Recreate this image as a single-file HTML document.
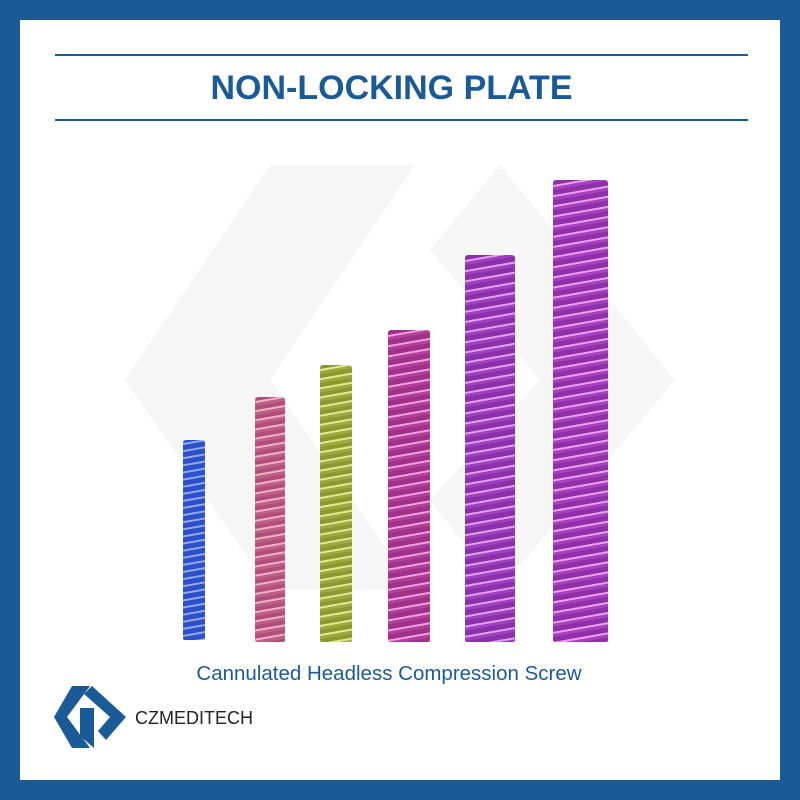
<!DOCTYPE html>
<html><head><style>
body{margin:0;width:800px;height:800px;background:#1a5b97;position:relative;overflow:hidden;font-family:"Liberation Sans",sans-serif}
.inner{position:absolute;left:20px;top:20px;width:760px;height:760px;background:#fff}
.line{position:absolute;left:55px;width:693px;height:2px;background:#1a5b97}
.title{position:absolute;left:0;width:783px;top:69px;text-align:center;font-size:34px;font-weight:bold;color:#1a5b97}
.s{position:absolute;border-radius:3px 3px 2px 2px}
.cap{position:absolute;left:0;width:778px;top:662px;text-align:center;font-size:20.5px;color:#1a5b97}
.logo{position:absolute;left:135px;top:708px;font-size:18px;color:#222}
</style></head><body>
<div class="inner"></div>
<svg style="position:absolute;left:0;top:0" width="800" height="800">
<polygon points="270,165 415,165 270,380 415,590 270,590 125,380" fill="#f6f6f6"/>
<polygon points="500,165 675,380 500,590 430,500 540,380 430,250" fill="#f6f6f6"/>
</svg>
<div class="line" style="top:54px"></div>
<div class="line" style="top:119px"></div>
<div class="title">NON-LOCKING PLATE</div>
<div class="s" style="left:183px;top:440px;width:22px;height:200px;background:repeating-linear-gradient(170deg,#2a4fd0 0 3px,#8fa8f0 3px 5px,#3050c0 5px 7px)"></div>
<div class="s" style="left:255px;top:397px;width:30px;height:245px;background:repeating-linear-gradient(170deg,#b0507a 0 4px,#f0b0c8 4px 6px,#c06088 6px 9px)"></div>
<div class="s" style="left:320px;top:365px;width:32px;height:277px;background:repeating-linear-gradient(170deg,#8a9a30 0 4px,#e0e890 4px 6px,#a0a840 6px 9px)"></div>
<div class="s" style="left:388px;top:330px;width:42px;height:312px;background:repeating-linear-gradient(170deg,#a0308a 0 5px,#f0a0e0 5px 7px,#b04098 7px 10px)"></div>
<div class="s" style="left:465px;top:255px;width:50px;height:387px;background:repeating-linear-gradient(170deg,#8a30a8 0 5px,#e0a0f0 5px 7px,#a040c0 7px 10px)"></div>
<div class="s" style="left:553px;top:180px;width:55px;height:462px;background:repeating-linear-gradient(170deg,#9030a8 0 5px,#e8a0f0 5px 7px,#a840c0 7px 10px)"></div>
<div class="cap">Cannulated Headless Compression Screw</div>
<svg style="position:absolute;left:54px;top:686px" width="72" height="62">
<polygon points="18,0 36,0 13,31 36,62 18,62 0,31" fill="#1a5b97"/>
<polygon points="38,0 72,31 52,54 44,45 56,31 30,8" fill="#1a5b97"/>
<polygon points="26,22 40,22 40,62 26,50" fill="#1a5b97"/>
</svg>
<div class="logo">CZMEDITECH</div>
</body></html>
